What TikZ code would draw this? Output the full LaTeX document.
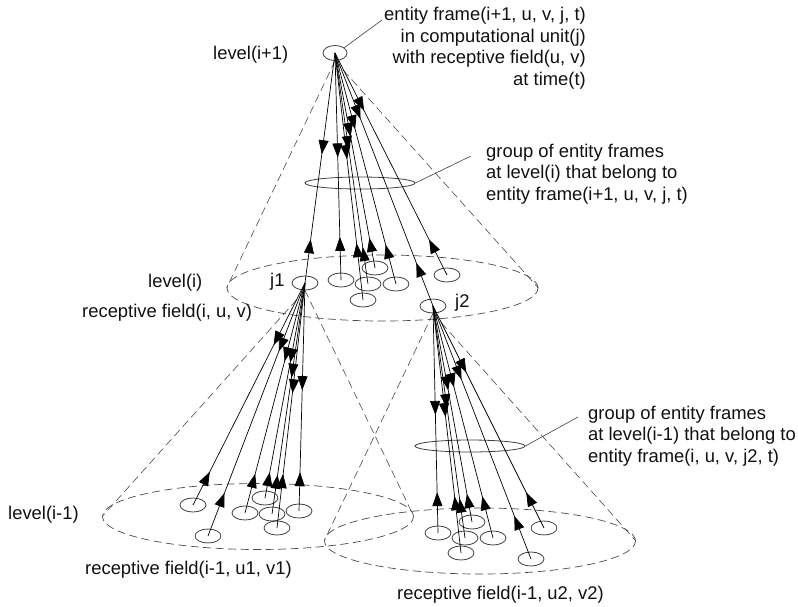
\documentclass[tikz,border=0pt]{standalone}
\usepackage{fontspec}
\setmainfont{Liberation Sans}
\usepackage{xcolor}
\usepackage{tikz}
\usetikzlibrary{shapes.geometric,arrows.meta,decorations.markings}
\definecolor{inkline}{HTML}{000000}
\definecolor{ringgray}{HTML}{404040}
\definecolor{conegray}{HTML}{4A4A4A}
\definecolor{textink}{HTML}{111111}
\tikzset{
  >={Triangle[length=14pt,width=10pt]},
  eframe/.style={ellipse,draw=ringgray,line width=0.8pt,minimum width=26pt,
                 minimum height=14pt,inner sep=0pt},
  rfield/.style={ellipse,draw=conegray,line width=0.7pt,dash pattern=on 8pt off 4.5pt,
                 inner sep=0pt,minimum width=311pt,minimum height=66pt},
  grpring/.style={ellipse,draw=ringgray,line width=0.8pt,minimum width=110pt,
                  minimum height=12pt,inner sep=0pt},
  coneside/.style={draw=conegray,line width=0.6pt,dash pattern=on 8pt off 4.5pt},
  pointer/.style={draw=ringgray,line width=0.6pt},
  lbl/.style={inner sep=0pt,font=\fontsize{18.4pt}{21.5pt}\selectfont,text=textink},
  link/.style 2 args={color=inkline,line width=0.7pt,postaction={decorate},
    decoration={markings,
      mark=at position #1 with {\arrow{>}},
      mark=at position #2 with {\arrowreversed{>}}}},
}

\begin{document}
\begin{tikzpicture}[x=1pt,y=-1pt]
\useasboundingbox (0,0) rectangle (798,606);

% receptive fields
\node[rfield] (lvi) at (382.5,288) {};
\node[rfield] (lvl) at (258,516.5) {};
\node[rfield] (lvr) at (480,541) {};

% level(i+1)
\node[eframe,minimum width=24pt,minimum height=15pt] (ef) at (335,53) {};
\node[lbl,anchor=west] (lvtop) at (213,55) {level(i+1)};
\node[lbl,anchor=east,align=right] (eftxt) at (586,48)
  {entity frame(i+1, u, v, j, t)\\in computational unit(j)\\with receptive field(u, v)\\at time(t)};
\coordinate (efptr) at (382,20);
\draw[pointer] (ef.30) -- (efptr);

% level(i)
\node[eframe] (j1) at (305,283) {};
\node[eframe] (ca) at (341,280) {};
\node[eframe] (cb) at (375,268) {};
\node[eframe] (cc) at (368,284) {};
\node[eframe] (cd) at (396,284) {};
\node[eframe] (ce) at (363,300) {};
\node[eframe] (cf) at (447,275) {};
\node[eframe] (j2) at (433,306) {};
\node[lbl,anchor=west] at (270,282) {j1};
\node[lbl,anchor=west] at (455,303) {j2};
\node[lbl,anchor=west] (lvmid) at (148,283) {level(i)};
\node[lbl,anchor=west] (rfmid) at (82,313) {receptive field(i, u, v)};

\draw[coneside] (ef.south) -- (lvi.west);
\draw[coneside] (ef.south) -- (lvi.east);
\node[grpring] (grpi) at (360,183) {};
\node[lbl,anchor=west,align=left] (grpitxt) at (486,174)
  {group of entity frames\\at level(i) that belong to\\entity frame(i+1, u, v, j, t)};
\coordinate (grpiptr) at (471,156);
\draw[pointer] (grpi.east) -- (grpiptr);

\foreach \c/\d/\u in {j1/0.44/0.81, ca/0.46/0.81, cb/0.39/0.86, cc/0.42/0.84,
                      cd/0.33/0.83, ce/0.43/0.77, cf/0.26/0.84, j2/0.26/0.83}
  \draw[link={\d}{\u}] (ef.center) -- (\c.center);

% level(i-1) under j1
\node[eframe] (la) at (193,505) {};
\node[eframe] (lb) at (208,536) {};
\node[eframe] (lc) at (245,513) {};
\node[eframe] (ld) at (265,498) {};
\node[eframe] (le) at (272,514) {};
\node[eframe] (lf) at (277,528) {};
\node[eframe] (lg) at (299,511) {};
\draw[coneside] (j1.south) -- (lvl.west);
\draw[coneside] (j1.south) -- (lvl.east);
\foreach \c/\d/\u in {la/0.28/0.85, lb/0.27/0.83, lc/0.34/0.83, ld/0.37/0.88,
                      le/0.41/0.83, lf/0.45/0.78, lg/0.47/0.83}
  \draw[link={\d}{\u}] (j1.center) -- (\c.center);

% level(i-1) under j2
\node[eframe] (ra) at (438,533) {};
\node[eframe] (rb) at (461,553) {};
\node[eframe] (rc) at (465,538) {};
\node[eframe] (rd) at (472,522) {};
\node[eframe] (re) at (493,538) {};
\node[eframe] (rf) at (531,559) {};
\node[eframe] (rg) at (544,528) {};
\draw[coneside] (j2.south) -- (lvr.west);
\draw[coneside] (j2.south) -- (lvr.east);
\node[grpring] (grpr) at (470,446) {};
\node[lbl,anchor=west,align=left] (grprtxt) at (588,436)
  {group of entity frames\\at level(i-1) that belong to\\entity frame(i, u, v, j2, t)};
\coordinate (grprptr) at (578,417);
\draw[pointer] (grpr.east) -- (grprptr);
\foreach \c/\d/\u in {ra/0.48/0.82, rb/0.45/0.77, rc/0.44/0.83, rd/0.39/0.87,
                      re/0.35/0.82, rf/0.29/0.83, rg/0.30/0.84}
  \draw[link={\d}{\u}] (j2.center) -- (\c.center);

\node[lbl,anchor=west] (lvlow) at (8,515) {level(i-1)};
\node[lbl,anchor=west] (rflow) at (85,570) {receptive field(i-1, u1, v1)};
\node[lbl,anchor=west] (rfright) at (397,595) {receptive field(i-1, u2, v2)};
\end{tikzpicture}
\end{document}
